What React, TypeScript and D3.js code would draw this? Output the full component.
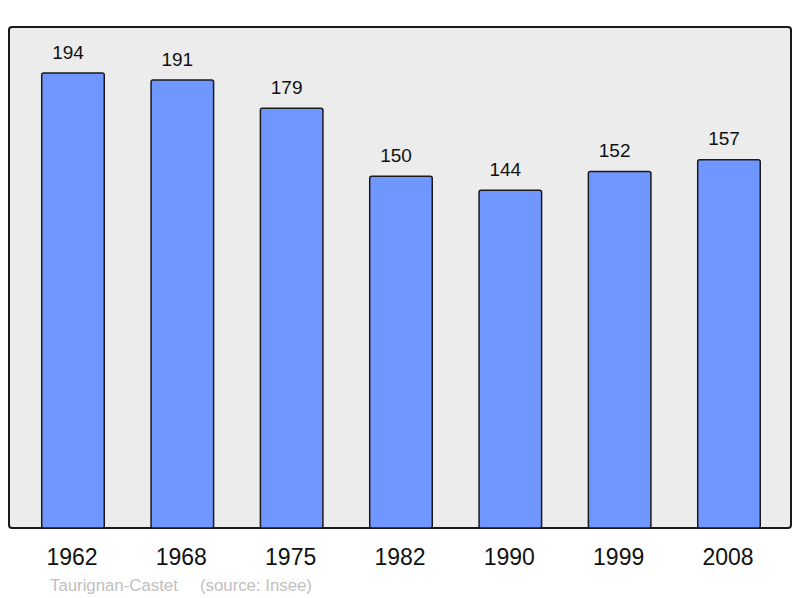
import React from "react";
import * as d3 from "d3";

const years = ["1962", "1968", "1975", "1982", "1990", "1999", "2008"];
const population = [194, 191, 179, 150, 144, 152, 157];
const placeName = "Taurignan-Castet";
const sourceText = "(source: Insee)";

export default function App() {
  const W = 800, H = 598;
  const frame = { x0: 9, y0: 27, x1: 791, y1: 528 };
  const step = 109.33;
  const x = d3
    .scaleBand<string>()
    .domain(years)
    .range([73 - step / 2, 73 + step * 6.5])
    .paddingInner(0.428)
    .paddingOuter(0.214);
  const y = d3.scaleLinear().domain([0, 194]).range([frame.y1, 73]);
  const font = "'Liberation Sans', Arial, sans-serif";

  return (
    <svg width={W} height={H} style={{ position: "absolute", left: 0, top: 0 }}>
      <rect width={W} height={H} fill="#ffffff" />
      <rect
        x={frame.x0}
        y={frame.y0}
        width={frame.x1 - frame.x0}
        height={frame.y1 - frame.y0}
        rx={3}
        fill="#ececec"
        stroke="#1a1a1a"
        strokeWidth={2}
      />
      {years.map((yr, i) => {
        const bx = x(yr)!;
        const by = y(population[i]);
        return (
          <g key={yr}>
            <rect
              x={bx}
              y={by}
              width={x.bandwidth()}
              height={frame.y1 - by}
              rx={2}
              fill="#7097ff"
              stroke="#1a1a1a"
              strokeWidth={1.5}
            />
            <text
              x={bx + x.bandwidth() / 2 - 5}
              y={by - 14.5}
              textAnchor="middle"
              fontFamily={font}
              fontSize={19}
              fill="#111"
            >
              {population[i]}
            </text>
            <text
              x={bx + x.bandwidth() / 2 - 1}
              y={565}
              textAnchor="middle"
              fontFamily={font}
              fontSize={23}
              fill="#111"
            >
              {yr}
            </text>
          </g>
        );
      })}
      <text x={50} y={591} fontFamily={font} fontSize={16.8} fill="#c0c0c0">
        {placeName}
      </text>
      <text x={200} y={591} fontFamily={font} fontSize={16.8} fill="#c0c0c0">
        {sourceText}
      </text>
    </svg>
  );
}
